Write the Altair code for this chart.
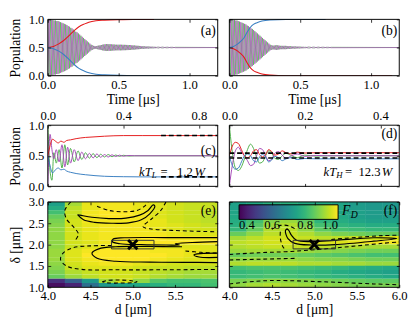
import altair as alt
import pandas as pd

FONT = "Liberation Serif, DejaVu Serif, serif"
RED, BLUE, GREEN, PURPLE = "#e41a1c", "#3a7fc1", "#4daf4a", "#a64bb8"

W = 175
H1, H2, H3 = 58, 63, 88

# ---------------- (a) ----------------
a_t_sig = [0, 0.04, 0.074, 0.11, 0.154, 0.19, 0.22, 0.26, 0.29, 0.34, 0.4, 0.5, 0.6, 0.75]
a_red = [0.5, 0.52, 0.56, 0.62, 0.72, 0.81, 0.87, 0.92, 0.95, 0.975, 0.985, 0.995, 1.0, 1.0]
a_t_blue = [0, 0.04, 0.074, 0.11, 0.154, 0.19, 0.22, 0.26, 0.29, 0.34, 0.4, 0.5, 0.6, 0.75, 1.0]
a_blue = [0.5, 0.48, 0.44, 0.38, 0.28, 0.19, 0.13, 0.08, 0.05, 0.025, 0.015, 0.005, 0.0, 0.0, 0.0]
a_half = 0.009  # half period of the fast oscillation [us]
a_amp = [
    0.50, 0.50, 0.50, 0.49, 0.49, 0.48, 0.48, 0.47, 0.47, 0.46,
    0.45, 0.44, 0.43, 0.42, 0.41, 0.40, 0.38, 0.37, 0.35, 0.34,
    0.32, 0.30, 0.28, 0.27, 0.25, 0.23, 0.21, 0.19, 0.17, 0.15,
    0.13, 0.11, 0.09, 0.07, 0.05, 0.04, 0.03, 0.025, 0.025, 0.03,
    0.035, 0.04, 0.045, 0.05, 0.055, 0.06, 0.06, 0.06, 0.06, 0.06,
    0.055, 0.055, 0.055, 0.05, 0.05, 0.05, 0.05, 0.05, 0.05, 0.048,
    0.048, 0.047, 0.046, 0.045, 0.044, 0.042, 0.04, 0.038, 0.036, 0.034,
    0.032, 0.03, 0.028, 0.026, 0.024, 0.022, 0.021, 0.02, 0.019, 0.018,
    0.017, 0.016, 0.015, 0.014, 0.013, 0.012, 0.011, 0.01, 0.01, 0.009,
    0.009, 0.008, 0.008, 0.007, 0.007, 0.006, 0.006, 0.005, 0.005, 0.004,
    0.004]

# ---------------- (b) ----------------
b_t_blue = [0, 0.03, 0.057, 0.08, 0.103, 0.125, 0.149, 0.17, 0.195, 0.23, 0.29, 0.4, 0.5, 0.68]
b_blue = [0.5, 0.52, 0.56, 0.61, 0.67, 0.77, 0.86, 0.91, 0.94, 0.97, 0.99, 1.0, 1.0, 1.0]
b_t_red = [0, 0.03, 0.057, 0.08, 0.103, 0.125, 0.149, 0.17, 0.195, 0.23, 0.29, 0.4, 0.5, 0.68, 1.15]
b_red = [0.5, 0.48, 0.44, 0.39, 0.33, 0.23, 0.14, 0.09, 0.06, 0.03, 0.01, 0.0, 0.0, 0.0, 0.0]
b_half = 0.009
b_amp = [
    0.50, 0.50, 0.50, 0.49, 0.49, 0.48, 0.48, 0.47, 0.46, 0.45,
    0.44, 0.43, 0.42, 0.41, 0.39, 0.38, 0.36, 0.34, 0.33, 0.31,
    0.29, 0.27, 0.25, 0.23, 0.21, 0.19, 0.17, 0.15, 0.13, 0.11,
    0.09, 0.07, 0.05, 0.04, 0.035, 0.035, 0.04, 0.04, 0.04, 0.035,
    0.03, 0.03, 0.03, 0.03, 0.03, 0.028, 0.026, 0.025, 0.024, 0.022,
    0.02, 0.02, 0.019, 0.018, 0.017, 0.016, 0.015, 0.014, 0.013, 0.012,
    0.012, 0.011, 0.011, 0.01, 0.01, 0.01, 0.009, 0.009, 0.008, 0.008,
    0.008, 0.007, 0.007, 0.007, 0.006, 0.006, 0.006, 0.005, 0.005, 0.005,
    0.004]

# ---------------- (c) ----------------
c_t_osc = [0, 0.012, 0.022, 0.032, 0.045, 0.06, 0.075, 0.09, 0.105, 0.12, 0.14, 0.16, 0.18,
           0.2, 0.22, 0.24, 0.26, 0.28, 0.30, 0.32, 0.34, 0.36, 0.38, 0.40, 0.43, 0.46, 0.9]
c_green = [1.0, 0.25, 0.1, 0.55, 0.38, 0.6, 0.3, 0.68, 0.35, 0.62, 0.4, 0.58, 0.44,
           0.55, 0.46, 0.535, 0.47, 0.525, 0.48, 0.52, 0.485, 0.512, 0.49, 0.508, 0.495, 0.5, 0.5]
c_purple = [0.0, 0.85, 0.6, 0.45, 0.6, 0.4, 0.68, 0.32, 0.64, 0.38, 0.6, 0.42, 0.56,
            0.45, 0.54, 0.465, 0.53, 0.475, 0.52, 0.48, 0.515, 0.488, 0.51, 0.492, 0.505, 0.5, 0.5]
c_t_rb = [0, 0.01, 0.025, 0.04, 0.055, 0.07, 0.085, 0.1, 0.12, 0.15, 0.2, 0.25, 0.3, 0.4, 0.5, 0.9]
c_red = [0.5, 0.64, 0.77, 0.74, 0.71, 0.74, 0.72, 0.75, 0.76, 0.78, 0.8, 0.81, 0.82, 0.83, 0.83, 0.83]
c_blue = [0.5, 0.36, 0.22, 0.27, 0.3, 0.27, 0.28, 0.25, 0.23, 0.21, 0.19, 0.175, 0.165, 0.158, 0.155, 0.155]
c_ss_t = [0.6, 0.9]
c_ss_red = [0.83, 0.83]
c_ss_blue = [0.155, 0.155]

# ---------------- (d) ----------------
d_t = [0, 0.008, 0.016, 0.024, 0.032, 0.04, 0.048, 0.056, 0.064, 0.072, 0.08, 0.088, 0.096,
       0.104, 0.112, 0.12, 0.13, 0.14, 0.15, 0.165, 0.18, 0.2, 0.23, 0.26, 0.3, 0.45]
d_red = [0.5, 0.66, 0.72, 0.70, 0.6, 0.5, 0.47, 0.5, 0.58, 0.6, 0.52, 0.48, 0.52,
         0.6, 0.57, 0.51, 0.53, 0.58, 0.55, 0.53, 0.56, 0.545, 0.55, 0.55, 0.55, 0.55]
d_blue = [0.5, 0.34, 0.28, 0.3, 0.4, 0.5, 0.53, 0.5, 0.42, 0.4, 0.48, 0.52, 0.48,
          0.4, 0.43, 0.49, 0.47, 0.42, 0.45, 0.47, 0.44, 0.455, 0.45, 0.45, 0.45, 0.45]
d_green = [1.0, 0.55, 0.3, 0.26, 0.32, 0.45, 0.6, 0.69, 0.62, 0.48, 0.38, 0.4, 0.5,
           0.58, 0.55, 0.46, 0.44, 0.5, 0.54, 0.5, 0.47, 0.51, 0.495, 0.5, 0.5, 0.5]
d_purple = [0.0, 0.35, 0.58, 0.64, 0.56, 0.5, 0.42, 0.34, 0.36, 0.5, 0.62, 0.6, 0.5,
            0.42, 0.44, 0.54, 0.57, 0.51, 0.46, 0.5, 0.53, 0.49, 0.505, 0.5, 0.5, 0.5]
d_ss_t = [0.0, 0.45]
d_ss_hi = [0.543, 0.543]
d_ss_lo = [0.463, 0.463]

# ---------------- heat maps (e), (f) ----------------
d_left = [4.0, 4.2, 4.4, 4.6, 4.8, 5.0, 5.2, 5.4, 5.6, 5.8]
delta_low = [2.9, 2.8, 2.7, 2.6, 2.5, 2.4, 2.3, 2.2, 2.1, 2.0,
             1.9, 1.8, 1.7, 1.6, 1.5, 1.4, 1.3, 1.2, 1.1, 1.0]
e_grid = [
    [0.74, 0.92, 0.98, 0.99, 0.99, 0.98, 0.97, 0.96, 0.95, 0.95],
    [0.77, 0.94, 0.98, 0.99, 0.99, 0.98, 0.97, 0.96, 0.95, 0.95],
    [0.82, 0.95, 0.99, 1.00, 1.00, 0.99, 0.97, 0.96, 0.95, 0.94],
    [0.86, 0.95, 0.99, 1.00, 1.00, 0.99, 0.97, 0.96, 0.95, 0.94],
    [0.88, 0.96, 0.99, 0.99, 0.99, 0.99, 0.98, 0.96, 0.95, 0.94],
    [0.89, 0.96, 0.98, 0.99, 0.99, 0.99, 0.98, 0.97, 0.96, 0.95],
    [0.90, 0.96, 0.98, 0.99, 0.99, 0.99, 0.98, 0.97, 0.96, 0.96],
    [0.90, 0.96, 0.98, 0.99, 0.99, 0.99, 0.99, 0.98, 0.97, 0.97],
    [0.90, 0.96, 0.98, 0.99, 1.00, 1.00, 1.00, 0.99, 0.99, 0.99],
    [0.90, 0.96, 0.97, 0.99, 1.00, 1.00, 1.00, 1.00, 1.00, 1.00],
    [0.90, 0.95, 0.97, 0.98, 0.98, 0.98, 0.98, 0.97, 0.97, 0.97],
    [0.91, 0.97, 0.99, 1.00, 1.00, 1.00, 0.99, 0.99, 0.98, 0.97],
    [0.91, 0.97, 1.00, 1.00, 1.00, 1.00, 1.00, 0.99, 0.98, 0.98],
    [0.91, 0.97, 0.99, 1.00, 1.00, 1.00, 0.99, 0.98, 0.97, 0.97],
    [0.90, 0.96, 0.98, 0.99, 0.99, 0.98, 0.97, 0.96, 0.96, 0.96],
    [0.89, 0.95, 0.97, 0.97, 0.97, 0.96, 0.95, 0.95, 0.94, 0.94],
    [0.88, 0.93, 0.95, 0.96, 0.96, 0.95, 0.94, 0.93, 0.92, 0.92],
    [0.86, 0.91, 0.94, 0.96, 0.96, 0.95, 0.93, 0.92, 0.91, 0.91],
    [0.48, 0.58, 0.72, 0.92, 0.96, 0.90, 0.84, 0.82, 0.82, 0.83],
    [0.42, 0.46, 0.62, 0.72, 0.74, 0.76, 0.78, 0.80, 0.80, 0.82]]
f_grid = [
    [0.74, 0.76, 0.78, 0.78, 0.76, 0.76, 0.75, 0.73, 0.72, 0.72],
    [0.74, 0.76, 0.80, 0.80, 0.78, 0.76, 0.75, 0.73, 0.72, 0.72],
    [0.75, 0.78, 0.84, 0.86, 0.81, 0.77, 0.75, 0.74, 0.73, 0.72],
    [0.76, 0.80, 0.87, 0.89, 0.83, 0.78, 0.76, 0.74, 0.73, 0.73],
    [0.77, 0.82, 0.89, 0.91, 0.86, 0.79, 0.77, 0.75, 0.74, 0.74],
    [0.78, 0.84, 0.91, 0.93, 0.88, 0.82, 0.79, 0.78, 0.77, 0.77],
    [0.80, 0.86, 0.93, 0.94, 0.90, 0.85, 0.82, 0.81, 0.80, 0.80],
    [0.86, 0.90, 0.94, 0.95, 0.93, 0.90, 0.88, 0.87, 0.86, 0.86],
    [0.92, 0.94, 0.96, 0.96, 0.95, 0.94, 0.94, 0.95, 0.96, 0.97],
    [0.94, 0.95, 0.96, 0.97, 0.97, 0.97, 0.97, 0.98, 0.99, 0.99],
    [0.93, 0.94, 0.95, 0.95, 0.95, 0.94, 0.93, 0.93, 0.92, 0.92],
    [0.91, 0.92, 0.92, 0.92, 0.91, 0.90, 0.89, 0.88, 0.87, 0.87],
    [0.86, 0.87, 0.87, 0.87, 0.86, 0.85, 0.84, 0.83, 0.82, 0.82],
    [0.90, 0.91, 0.91, 0.91, 0.90, 0.89, 0.89, 0.88, 0.87, 0.87],
    [0.93, 0.94, 0.94, 0.94, 0.93, 0.93, 0.92, 0.92, 0.91, 0.91],
    [0.82, 0.83, 0.83, 0.83, 0.82, 0.81, 0.80, 0.78, 0.77, 0.76],
    [0.80, 0.81, 0.82, 0.81, 0.80, 0.79, 0.77, 0.76, 0.75, 0.74],
    [0.81, 0.82, 0.83, 0.82, 0.81, 0.80, 0.79, 0.78, 0.77, 0.76],
    [0.88, 0.89, 0.90, 0.90, 0.89, 0.88, 0.87, 0.86, 0.85, 0.85],
    [0.90, 0.92, 0.93, 0.92, 0.91, 0.90, 0.89, 0.88, 0.88, 0.88]]

e_solid = [
    [(4.35, 2.70), (4.42, 2.58), (4.55, 2.52), (4.75, 2.50), (4.95, 2.51), (5.1, 2.58), (5.2, 2.72),
     (5.26, 2.9), (5.24, 2.93), (5.18, 2.8), (5.08, 2.69), (4.92, 2.62), (4.72, 2.61), (4.52, 2.64),
     (4.38, 2.69), (4.35, 2.70)],
    [(6.0, 2.165), (5.4, 2.165), (4.9, 2.16), (4.77, 2.13), (4.76, 2.07), (4.85, 2.02), (5.1, 2.0),
     (5.4, 1.99), (5.55, 1.99), (5.5, 2.02), (5.7, 2.05), (6.0, 2.07)],
    [(5.58, 1.95), (5.2, 1.955), (4.8, 1.95), (4.6, 1.9), (4.52, 1.8), (4.58, 1.68), (4.8, 1.61),
     (5.2, 1.59), (5.6, 1.585), (6.0, 1.58)],
    [(6.0, 1.80), (5.8, 1.79), (5.72, 1.76), (5.78, 1.71), (6.0, 1.70)]]
e_dashed = [
    [(4.27, 3.0), (4.2, 2.8), (4.22, 2.6), (4.3, 2.42), (4.36, 2.25), (4.33, 2.12)],
    [(4.75, 1.98), (4.5, 1.97), (4.3, 1.93), (4.18, 1.8), (4.15, 1.65), (4.22, 1.5), (4.4, 1.42),
     (4.8, 1.41), (5.3, 1.41), (6.0, 1.42)],
    [(5.39, 3.0), (5.33, 2.8), (5.22, 2.6), (5.12, 2.42), (5.2, 2.37), (5.5, 2.33), (6.0, 2.3)],
    [(4.58, 2.9), (4.72, 2.8), (4.9, 2.77), (5.05, 2.8), (5.15, 2.92), (5.18, 3.0)],
    [(5.62, 1.85), (5.8, 1.82), (6.0, 1.8)],
    [(4.64, 1.13), (4.7, 1.16), (4.85, 1.17), (5.0, 1.15), (5.05, 1.13), (5.0, 1.11), (4.85, 1.1),
     (4.7, 1.105), (4.64, 1.13)]]
f_solid = [
    [(4.68, 2.37), (4.66, 2.33), (4.69, 2.14), (4.77, 2.03), (4.97, 1.99), (5.24, 2.0), (5.70, 2.08),
     (5.97, 2.14), (5.70, 2.16), (5.24, 2.1), (4.97, 2.07), (4.79, 2.1), (4.73, 2.22), (4.70, 2.33),
     (4.68, 2.37)]]
f_dashed = [
    [(4.5, 2.36), (4.6, 2.45), (4.7, 2.44), (4.78, 2.36)],
    [(4.6, 2.3), (4.6, 2.15), (4.63, 1.95), (4.66, 1.88)],
    [(5.2, 2.12), (5.5, 2.17), (5.8, 2.21), (6.0, 2.22)],
    [(4.0, 1.77), (4.35, 1.81), (4.73, 1.84), (5.12, 1.9), (5.5, 1.97), (5.8, 2.03), (6.0, 2.06)],
    [(4.0, 1.64), (4.4, 1.66), (4.8, 1.68)],
    [(4.0, 1.08), (4.3, 1.14), (4.55, 1.16), (5.1, 1.13), (5.7, 1.08), (6.0, 1.06)]]
marker_d, marker_delta = [5.0], [2.0]
box_d, box_d2, box_delta, box_delta2 = [4.75], [5.25], [1.9], [2.1]
F_TICKS = [0.4, 0.6, 0.8, 1.0]


# ---------------- helpers ----------------
def df_xy(xs, ys):
    return pd.DataFrame({"x": xs, "y": ys})


def zig(amps, half, t_end, sign):
    xs = [k * half for k in range(len(amps))] + [t_end]
    ys = [0.5 + sign * (a if k % 2 == 0 else -a) for k, a in enumerate(amps)] + [0.5]
    return df_xy(xs, ys)


def heat_df(grid):
    # cells overlap by a hair so that no anti-aliasing seams show between them
    rows = []
    for i, row in enumerate(grid):
        for j, v in enumerate(row):
            rows.append({"x": d_left[j], "x2": d_left[j] + 0.206,
                         "y": delta_low[i], "y2": delta_low[i] + 0.103, "f": v})
    return pd.DataFrame(rows)


def contour_df(paths):
    rows = []
    for c, pts in enumerate(paths):
        for i, (dx, dy) in enumerate(pts):
            rows.append({"x": dx, "y": dy, "i": i, "c": c})
    return pd.DataFrame(rows)


ONE = pd.DataFrame({"k": [0]})


def xaxis(vals, title, orient, h, tsize=14, tpad=0):
    return alt.Axis(values=vals, orient=orient, format=".1f", grid=True, gridDash=[3, h - 6, 3, 1000],
                    gridColor="black", gridWidth=0.8, gridOpacity=1, ticks=False, domain=False, zindex=1,
                    labelFlush=False, labelOverlap=False, labelPadding=3, titlePadding=tpad, title=title,
                    titleFontSize=tsize)


def yaxis(vals, show, title, w):
    kw = dict(values=vals, format=".1f", grid=True, gridDash=[3, w - 6, 3, 1000],
              gridColor="black", gridWidth=0.8, gridOpacity=1, ticks=False, domain=False, zindex=1,
              labelFlush=False, labelOverlap=False, labelPadding=4, titlePadding=6, title=title)
    if not show:
        kw["labels"] = False
    return alt.Axis(**kw)


def scales(xdom, ydom, xax, yax):
    X = alt.X("x:Q", scale=alt.Scale(domain=xdom, nice=False, zero=False), axis=xax)
    Y = alt.Y("y:Q", scale=alt.Scale(domain=ydom, nice=False, zero=False), axis=yax)
    return X, Y


def line(df, X, Y, color, width=1.0, interp="linear", dash=None):
    kw = dict(color=color, strokeWidth=width, interpolate=interp, clip=True)
    if dash:
        kw["strokeDash"] = dash
    return alt.Chart(df).mark_line(**kw).encode(x=X, y=Y)


def frame(h):
    return alt.Chart(ONE).mark_rect(fillOpacity=0, stroke="black", strokeWidth=1).encode(
        x=alt.value(0), x2=alt.value(W), y=alt.value(0), y2=alt.value(h))


def label(txt_, y):
    return alt.Chart(ONE).mark_text(text=txt_, font=FONT, fontSize=14, align="right",
                                    baseline="middle", color="black").encode(
        x=alt.value(W - 2), y=alt.value(y))


def txt(s, x, y, size=13, italic=False):
    return alt.Chart(ONE).mark_text(text=s, font=FONT, fontSize=size, align="left",
                                    baseline="middle", color="black",
                                    fontStyle="italic" if italic else "normal").encode(
        x=alt.value(x), y=alt.value(y))


# ---------------- panels ----------------
def top_panel(amps, half, t_red, red, t_blue, blue, lab, left):
    X, Y = scales([0, 1.2], [0, 1],
                  xaxis([0.0, 0.5, 1.0], "Time [μs]", "bottom", H1, 14, 2),
                  yaxis([0.0, 0.5, 1.0], left, "Population" if left else "", W))
    layers = [
        line(zig(amps, half, 1.2, 1), X, Y, GREEN, 0.7),
        line(zig(amps, half, 1.2, -1), X, Y, PURPLE, 0.7),
        line(df_xy(t_red, red), X, Y, RED, 1.1, "monotone"),
        line(df_xy(t_blue, blue), X, Y, BLUE, 1.1, "monotone"),
        frame(H1), label(lab, 12)]
    return alt.layer(*layers).properties(width=W, height=H1)


pa = top_panel(a_amp, a_half, a_t_sig, a_red, a_t_blue, a_blue, "(a)", True)
pb = top_panel(b_amp, b_half, b_t_red, b_red, b_t_blue, b_blue, "(b)", False)

Xc, Yc = scales([0, 0.9], [0, 1], xaxis([0.0, 0.4, 0.8], "", "top", H2),
                yaxis([0.0, 0.5, 1.0], True, "Population", W))
pc = alt.layer(
    line(df_xy(c_t_osc, c_green), Xc, Yc, GREEN, 1.0, "monotone"),
    line(df_xy(c_t_osc, c_purple), Xc, Yc, PURPLE, 1.0, "monotone"),
    line(df_xy(c_t_rb, c_red), Xc, Yc, RED, 1.0, "monotone"),
    line(df_xy(c_t_rb, c_blue), Xc, Yc, BLUE, 1.0, "monotone"),
    line(df_xy(c_ss_t, c_ss_red), Xc, Yc, "black", 1.6, dash=[5, 3]),
    line(df_xy(c_ss_t, c_ss_blue), Xc, Yc, "black", 1.6, dash=[5, 3]),
    frame(H2), label("(c)", 27),
    txt("kT", 94, H2 - 15, 13, True), txt("L", 107, H2 - 12, 9, True),
    txt("=", 116, H2 - 15), txt("1.2", 133, H2 - 15), txt("W", 151, H2 - 15, 13, True),
).properties(width=W, height=H2)

Xd, Yd = scales([0, 0.45], [0, 1], xaxis([0.0, 0.2, 0.4], "", "top", H2),
                yaxis([0.0, 0.5, 1.0], False, "", W))
pd_ = alt.layer(
    line(df_xy(d_t, d_green), Xd, Yd, GREEN, 1.0, "monotone"),
    line(df_xy(d_t, d_purple), Xd, Yd, PURPLE, 1.0, "monotone"),
    line(df_xy(d_t, d_red), Xd, Yd, RED, 1.0, "monotone"),
    line(df_xy(d_t, d_blue), Xd, Yd, BLUE, 1.0, "monotone"),
    line(df_xy(d_ss_t, d_ss_hi), Xd, Yd, "black", 1.6, dash=[5, 3]),
    line(df_xy(d_ss_t, d_ss_lo), Xd, Yd, "black", 1.6, dash=[5, 3]),
    frame(H2), label("(d)", 9),
    txt("kT", 97, H2 - 15, 13, True), txt("H", 110, H2 - 12, 9, True),
    txt("=", 119, H2 - 15), txt("12.3", 133, H2 - 15), txt("W", 157, H2 - 15, 13, True),
).properties(width=W, height=H2)


def heat_panel(grid, solid, dashed, lab, left, xlabels, legend):
    X, Y = scales([4.0, 6.0], [1.0, 3.0],
                  xaxis(xlabels, "d [μm]", "bottom", H3),
                  yaxis([1.0, 1.5, 2.0, 2.5, 3.0], left, "δ [μm]" if left else "", W))
    cscale = alt.Scale(scheme="viridis", domain=[0.4, 1.0])
    heat = alt.Chart(heat_df(grid)).mark_rect(clip=True).encode(
        x=X, x2=alt.X2("x2:Q"), y=Y, y2=alt.Y2("y2:Q"),
        color=alt.Color("f:Q", scale=cscale, legend=legend))
    cs = alt.Chart(contour_df(solid)).mark_line(color="black", strokeWidth=1.2,
                                                interpolate="catmull-rom", clip=True).encode(
        x=X, y=Y, detail="c:N", order="i:Q")
    cd = alt.Chart(contour_df(dashed)).mark_line(color="black", strokeWidth=1.1, strokeDash=[4, 3],
                                                 interpolate="catmull-rom", clip=True).encode(
        x=X, y=Y, detail="c:N", order="i:Q")
    box = alt.Chart(pd.DataFrame({"x": box_d, "x2": box_d2, "y": box_delta, "y2": box_delta2})).mark_rect(
        fillOpacity=0, stroke="#333333", strokeWidth=1).encode(
        x=X, x2=alt.X2("x2:Q"), y=Y, y2=alt.Y2("y2:Q"))
    mk = alt.Chart(df_xy(marker_d, marker_delta)).mark_point(
        shape="M-1,-1L1,1M1,-1L-1,1", size=90, stroke="black", strokeWidth=3, filled=False,
        opacity=1).encode(x=X, y=Y)
    return [heat, cs, cd, box, mk, frame(H3), label(lab, 10)]


pe = alt.layer(*heat_panel(e_grid, e_solid, e_dashed, "(e)", True, [4.0, 4.5, 5.0, 5.5], None)
               ).properties(width=W, height=H3)

f_legend = alt.Legend(type="gradient", orient="none", legendX=10, legendY=3, direction="horizontal",
                      gradientLength=102, gradientThickness=15, title="", values=F_TICKS,
                      format=".1f", labelFont=FONT, labelFontSize=13, labelColor="black",
                      labelAlign="center", labelOffset=0, labelOverlap=False,
                      gradientStrokeColor="black", gradientStrokeWidth=1, padding=0)
f_layers = heat_panel(f_grid, f_solid, f_dashed, "(f)", False, [4.0, 4.5, 5.0, 5.5, 6.0], f_legend)
f_layers += [txt("F", 116, 10, 14, True), txt("D", 125, 14, 10, True)]
pf = alt.layer(*f_layers).properties(width=W, height=H3)

chart = alt.concat(pa, pb, pc, pd_, pe, pf, columns=2, spacing={"row": 1, "column": 2},
                   align="each").resolve_scale(color="independent").properties(
    padding={"left": 0, "top": 0, "right": 0, "bottom": 0}
).configure(font=FONT).configure_axis(
    labelFont=FONT, labelFontSize=13, labelColor="black",
    titleFont=FONT, titleFontSize=14, titleFontWeight="normal", titleColor="black"
).configure_view(stroke="transparent")

chart.save("out.html", embed_options={"renderer": "svg", "actions": False})
